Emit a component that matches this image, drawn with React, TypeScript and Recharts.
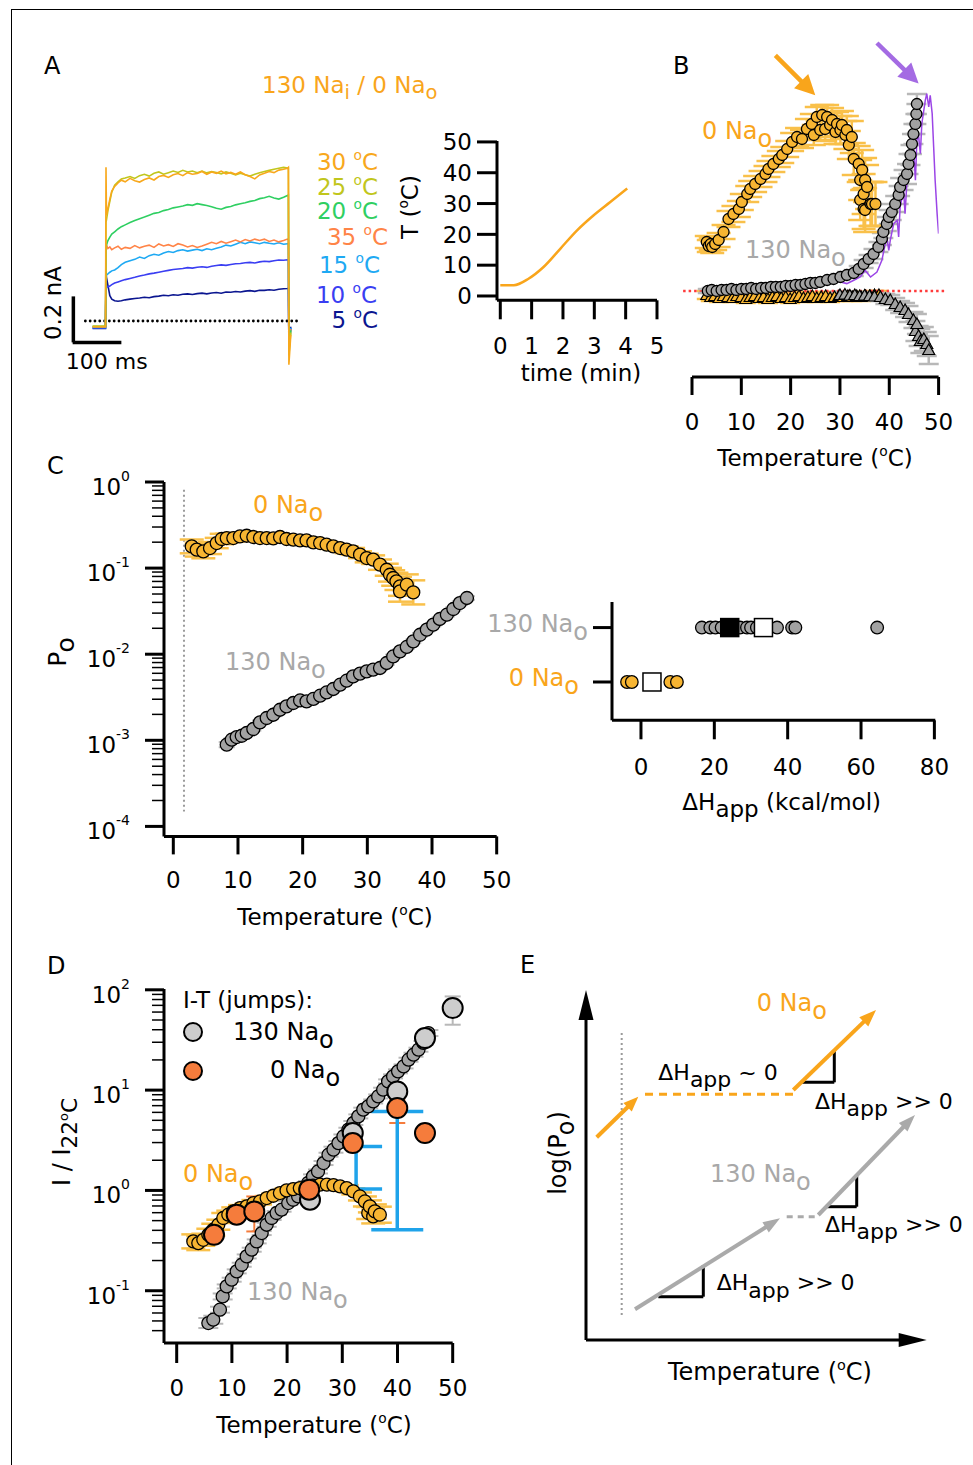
import React from "react";
import { ComposedChart, Line, Scatter, XAxis, YAxis, ErrorBar, ReferenceLine } from "recharts";

// fonts and colours
const FONT = "'DejaVu Sans', 'Liberation Sans', Arial, sans-serif";
const ORANGE = "#f9a51b";
const ORANGE_FILL = "#f7b532";
const ORANGE_ERR = "#f9c04a";
const GRAY_TXT = "#a8a8a8";
const GRAY_FILL = "#a2a2a2";
const GRAY_ERR = "#b8b8b8";
const JUMP_ORANGE = "#f57c3c";
const JUMP_GRAY = "#cdcdcd";
const BLUE = "#1fa3ea";
const PURPLE = "#9b45e6";

// ---------- A: current traces, time in ms, current in nA ----------
const tMs = [-28, -1, 0, 1, 4, 8, 12, 18, 25, 32, 40, 50, 60, 70, 80, 90, 100, 110, 120, 130, 140, 150, 160, 170, 180, 190, 200, 210, 220, 230, 240, 250, 260, 270, 280, 290, 300, 310, 320, 330, 340, 350, 360, 370, 378, 380, 381, 385];
const i30 = [-0.025, -0.025, 0.668, 0.46, 0.49, 0.53, 0.565, 0.585, 0.6, 0.612, 0.605, 0.62, 0.61, 0.604, 0.615, 0.622, 0.613, 0.628, 0.633, 0.624, 0.636, 0.641, 0.632, 0.645, 0.638, 0.641, 0.65, 0.638, 0.648, 0.642, 0.652, 0.64, 0.646, 0.638, 0.648, 0.636, 0.628, 0.618, 0.635, 0.642, 0.65, 0.645, 0.656, 0.66, 0.664, 0.668, -0.19, -0.06];
const i25 = [-0.022, -0.022, 0.43, 0.44, 0.48, 0.52, 0.56, 0.59, 0.605, 0.618, 0.622, 0.628, 0.62, 0.632, 0.638, 0.63, 0.642, 0.648, 0.638, 0.645, 0.652, 0.646, 0.655, 0.648, 0.652, 0.645, 0.652, 0.644, 0.65, 0.646, 0.64, 0.648, 0.642, 0.635, 0.642, 0.636, 0.63, 0.638, 0.645, 0.65, 0.655, 0.66, 0.664, 0.668, 0.665, 0.665, -0.15, -0.05];
const i20 = [-0.024, -0.024, 0.32, 0.33, 0.35, 0.365, 0.378, 0.388, 0.4, 0.41, 0.418, 0.428, 0.437, 0.445, 0.452, 0.46, 0.468, 0.472, 0.48, 0.485, 0.492, 0.496, 0.5, 0.506, 0.503, 0.51, 0.506, 0.502, 0.497, 0.49, 0.486, 0.494, 0.498, 0.505, 0.51, 0.514, 0.52, 0.524, 0.532, 0.536, 0.542, 0.535, 0.53, 0.538, 0.546, 0.548, -0.13, -0.04];
const i35 = [-0.026, -0.026, 0.325, 0.33, 0.315, 0.322, 0.31, 0.318, 0.325, 0.312, 0.32, 0.316, 0.328, 0.318, 0.325, 0.33, 0.32, 0.335, 0.326, 0.332, 0.324, 0.336, 0.33, 0.322, 0.328, 0.32, 0.326, 0.334, 0.342, 0.336, 0.346, 0.338, 0.345, 0.352, 0.344, 0.354, 0.348, 0.356, 0.35, 0.356, 0.346, 0.352, 0.344, 0.35, 0.356, 0.352, -0.12, -0.035];
const i15 = [-0.028, -0.028, 0.21, 0.2, 0.205, 0.212, 0.218, 0.222, 0.232, 0.245, 0.255, 0.262, 0.268, 0.278, 0.272, 0.284, 0.29, 0.286, 0.296, 0.302, 0.298, 0.306, 0.31, 0.304, 0.308, 0.312, 0.306, 0.314, 0.31, 0.316, 0.322, 0.33, 0.326, 0.334, 0.342, 0.336, 0.344, 0.34, 0.336, 0.342, 0.338, 0.335, 0.34, 0.334, 0.336, 0.336, -0.11, -0.03];
const i10 = [-0.03, -0.03, 0.16, 0.15, 0.148, 0.152, 0.158, 0.165, 0.17, 0.175, 0.18, 0.185, 0.19, 0.196, 0.2, 0.205, 0.208, 0.212, 0.216, 0.22, 0.224, 0.226, 0.228, 0.232, 0.23, 0.234, 0.236, 0.233, 0.238, 0.241, 0.244, 0.242, 0.246, 0.249, 0.25, 0.253, 0.255, 0.252, 0.257, 0.26, 0.258, 0.262, 0.265, 0.264, 0.266, 0.265, -0.1, -0.03];
const i5 = [-0.032, -0.032, 0.21, 0.19, 0.155, 0.11, 0.095, 0.088, 0.086, 0.088, 0.092, 0.095, 0.098, 0.1, 0.103, 0.101, 0.106, 0.108, 0.112, 0.11, 0.114, 0.112, 0.116, 0.118, 0.115, 0.119, 0.121, 0.118, 0.122, 0.124, 0.121, 0.126, 0.125, 0.128, 0.126, 0.13, 0.132, 0.129, 0.134, 0.133, 0.136, 0.134, 0.138, 0.14, 0.141, 0.142, -0.09, -0.025];
const traceTemps = [5, 10, 15, 35, 20, 25, 30];
const traceColors = ["#0b1690", "#3a3ef2", "#1ea9f3", "#ff8447", "#2fcf62", "#c1c61c", "#f8a81c"];
const traceValues = [i5, i10, i15, i35, i20, i25, i30];
// printed label order, with right edge and centre y
const traceLabels = [[30, 378, 161.7], [25, 378, 186.7], [20, 378, 210.7], [35, 388, 236.7], [15, 380, 265], [10, 377, 295], [5, 378, 320]];

// A inset: temperature ramp
const rampMin = [0, 0.43, 0.9, 1.38, 1.92, 2.45, 2.98, 3.51, 4.05];
const rampTemp = [3.5, 3.5, 5.6, 9.4, 15.4, 21.3, 26.2, 30.5, 34.9];
const rampTicksX = [0, 1, 2, 3, 4, 5];
const rampTicksY = [0, 10, 20, 30, 40, 50];

// ---------- B: normalised current vs temperature [T, value, err] ----------
const tempTicks = [0, 10, 20, 30, 40, 50];
const bOrangeCirc = [[3.0, 0.49, 0.06], [3.4, 0.45, 0.06], [3.8, 0.47, 0.06], [4.1, 0.44, 0.06], [4.7, 0.47, 0.06], [5.4, 0.51, 0.07], [6.4, 0.59, 0.07], [7.4, 0.72, 0.08], [8.4, 0.77, 0.08], [9.5, 0.82, 0.08], [10.1, 0.89, 0.08], [11.2, 0.97, 0.08], [11.8, 1.02, 0.08], [12.8, 1.07, 0.08], [13.9, 1.12, 0.08], [14.9, 1.17, 0.08], [15.5, 1.22, 0.08], [16.5, 1.27, 0.08], [17.6, 1.32, 0.08], [18.3, 1.36, 0.08], [19.3, 1.42, 0.08], [20.3, 1.49, 0.09], [21.3, 1.54, 0.09], [22.3, 1.52, 0.09], [23.3, 1.62, 0.1], [24.3, 1.67, 0.1], [24.7, 1.56, 0.1], [25.3, 1.74, 0.1], [26.0, 1.61, 0.1], [26.4, 1.76, 0.1], [27.0, 1.62, 0.12], [27.4, 1.74, 0.12], [28.0, 1.66, 0.12], [28.4, 1.71, 0.12], [29.1, 1.59, 0.12], [29.4, 1.67, 0.12], [30.1, 1.61, 0.14], [30.4, 1.66, 0.14], [31.1, 1.56, 0.14], [31.4, 1.61, 0.14], [31.8, 1.46, 0.14], [32.4, 1.54, 0.16], [32.8, 1.32, 0.16], [33.8, 1.27, 0.18], [34.1, 1.11, 0.2], [34.1, 0.91, 0.2], [34.5, 1.21, 0.2], [34.8, 0.97, 0.2], [34.8, 0.82, 0.2], [35.1, 1.11, 0.22], [35.1, 0.81, 0.22], [35.5, 1.04, 0.22], [36.2, 0.87, 0.22], [36.5, 0.87, 0.22], [37.2, 0.87, 0.22]];
const bGrayCirc = [[3.2, 0.0, 0.02], [4.0, 0.01, 0.02], [5.0, 0.0, 0.02], [6.0, 0.01, 0.02], [7.0, 0.01, 0.02], [8.0, 0.02, 0.02], [9.0, 0.01, 0.02], [10.0, 0.02, 0.02], [11.0, 0.02, 0.02], [12.0, 0.03, 0.02], [13.0, 0.02, 0.02], [14.0, 0.03, 0.02], [15.0, 0.03, 0.02], [16.0, 0.04, 0.02], [17.0, 0.04, 0.02], [18.0, 0.04, 0.02], [19.0, 0.05, 0.02], [20.0, 0.05, 0.02], [21.0, 0.06, 0.02], [22.0, 0.06, 0.02], [23.0, 0.07, 0.02], [24.0, 0.08, 0.02], [25.0, 0.08, 0.02], [26.0, 0.09, 0.02], [27.4, 0.11, 0.02], [28.7, 0.12, 0.02], [30.1, 0.14, 0.03], [31.4, 0.16, 0.03], [32.8, 0.18, 0.03], [33.8, 0.22, 0.03], [34.8, 0.27, 0.04], [35.8, 0.32, 0.04], [36.8, 0.37, 0.05], [37.8, 0.44, 0.05], [38.5, 0.52, 0.06], [38.8, 0.59, 0.06], [39.5, 0.67, 0.07], [39.9, 0.74, 0.07], [40.5, 0.79, 0.08], [41.2, 0.87, 0.08], [41.9, 0.96, 0.09], [42.2, 1.04, 0.09], [42.9, 1.11, 0.1], [43.6, 1.17, 0.1], [43.9, 1.27, 0.1], [44.3, 1.36, 0.1], [44.6, 1.47, 0.1], [44.9, 1.57, 0.1], [45.3, 1.67, 0.1], [45.5, 1.77, 0.1], [45.6, 1.87, 0.1]];
const bGrayTri = [[30, -0.04, 0.03], [31, -0.035, 0.03], [32, -0.045, 0.03], [33, -0.04, 0.03], [34, -0.05, 0.03], [35, -0.045, 0.03], [36, -0.05, 0.04], [37, -0.055, 0.04], [38.2, -0.06, 0.04], [39.2, -0.08, 0.05], [40.2, -0.09, 0.05], [41.2, -0.13, 0.06], [42.2, -0.16, 0.06], [43.2, -0.19, 0.07], [43.9, -0.23, 0.08], [44.9, -0.29, 0.08], [45.3, -0.4, 0.1], [45.6, -0.33, 0.1], [45.95, -0.45, 0.1], [46.3, -0.5, 0.12], [47.0, -0.48, 0.12], [47.6, -0.53, 0.12], [48.0, -0.59, 0.14]];
const bOrangeTri = [[3.0, -0.04, 0.04], [3.8, -0.06, 0.04], [4.6, -0.05, 0.04], [5.5, -0.07, 0.04], [6.4, -0.05, 0.04], [7.3, -0.06, 0.04], [8.2, -0.07, 0.04], [9.1, -0.05, 0.04], [10.0, -0.06, 0.04], [10.9, -0.08, 0.04], [11.8, -0.06, 0.04], [12.7, -0.05, 0.04], [13.6, -0.07, 0.04], [14.5, -0.06, 0.04], [15.4, -0.08, 0.04], [16.3, -0.06, 0.04], [17.2, -0.05, 0.04], [18.1, -0.07, 0.04], [19.0, -0.06, 0.04], [19.9, -0.08, 0.04], [20.8, -0.06, 0.04], [21.7, -0.05, 0.04], [22.6, -0.07, 0.04], [23.5, -0.06, 0.04], [24.4, -0.05, 0.04], [25.3, -0.07, 0.04], [26.2, -0.06, 0.04], [27.1, -0.05, 0.04], [28.0, -0.07, 0.04], [28.9, -0.06, 0.04], [29.8, -0.05, 0.04], [30.7, -0.06, 0.04], [31.6, -0.05, 0.04], [32.5, -0.06, 0.04], [33.4, -0.05, 0.04], [34.3, -0.06, 0.04], [35.2, -0.05, 0.04], [36.1, -0.05, 0.04], [37.0, -0.04, 0.04], [37.9, -0.04, 0.04]];
const bPurple = [[4, 0.0], [10, 0.01], [16, 0.02], [22, 0.02], [26.0, 0.057], [28.0, 0.107], [30.1, 0.09], [31.4, 0.074], [32.8, 0.107], [34.1, 0.14], [35.1, 0.207], [36.2, 0.14], [37.5, 0.19], [38.5, 0.307], [39.2, 0.474], [39.5, 0.54], [39.9, 0.407], [40.2, 0.507], [40.9, 0.674], [41.6, 0.707], [41.9, 0.54], [42.2, 0.84], [42.6, 0.94], [42.9, 1.007], [43.2, 0.774], [43.6, 1.107], [43.9, 1.24], [44.3, 1.34], [44.6, 1.274], [44.9, 1.44], [45.3, 1.107], [45.6, 1.507], [45.9, 1.574], [46.3, 1.374], [46.6, 1.674], [47.0, 1.807], [47.3, 1.907], [47.6, 1.974], [48.0, 1.84], [48.3, 1.957], [48.7, 1.774], [49.0, 1.44], [49.3, 1.107], [49.7, 0.774], [50.0, 0.574]];
const bArrows = [
  { from: [16.9, 2.357], to: [25.0, 1.957], color: ORANGE },
  { from: [37.5, 2.48], to: [45.95, 2.074], color: "#a46be3" },
];

// ---------- C: Po (log10 units) vs temperature ----------
const cOrange = [[2.85, -0.748, 0.08], [3.62, -0.786, 0.08], [4.64, -0.806, 0.08], [5.67, -0.767, 0.07], [6.71, -0.709, 0.06], [7.48, -0.662, 0.06], [8.26, -0.651, 0.05], [9.28, -0.651, 0.04], [10.3, -0.632, 0.04], [11.35, -0.624, 0.04], [12.37, -0.639, 0.03], [13.4, -0.651, 0.03], [14.44, -0.651, 0.03], [15.46, -0.655, 0.03], [16.5, -0.639, 0.03], [17.5, -0.662, 0.03], [18.55, -0.67, 0.03], [19.6, -0.678, 0.03], [20.6, -0.678, 0.03], [21.65, -0.701, 0.03], [22.7, -0.709, 0.03], [23.7, -0.728, 0.03], [24.74, -0.748, 0.03], [25.8, -0.767, 0.03], [26.8, -0.786, 0.04], [27.8, -0.806, 0.04], [28.87, -0.844, 0.04], [29.9, -0.883, 0.05], [30.9, -0.902, 0.05], [31.96, -0.96, 0.06], [33.0, -1.019, 0.07], [33.5, -1.077, 0.08], [34.0, -1.115, 0.09], [34.5, -1.154, 0.1], [35.05, -1.212, 0.11], [35.05, -1.27, 0.12], [36.1, -1.193, 0.12], [37.1, -1.282, 0.14]];
const cGray = [[8.26, -3.051, 0.03], [9.03, -2.993, 0.02], [9.8, -2.962, 0.02], [10.58, -2.947, 0.02], [11.35, -2.915, 0.02], [12.37, -2.869, 0.02], [13.4, -2.792, 0.02], [14.44, -2.741, 0.02], [15.46, -2.703, 0.02], [16.5, -2.645, 0.02], [17.5, -2.606, 0.02], [18.55, -2.567, 0.02], [19.6, -2.537, 0.02], [20.6, -2.548, 0.02], [21.65, -2.52, 0.02], [22.7, -2.482, 0.02], [23.7, -2.444, 0.02], [24.74, -2.404, 0.02], [25.8, -2.354, 0.02], [26.8, -2.308, 0.02], [27.8, -2.258, 0.02], [28.87, -2.226, 0.02], [29.9, -2.2, 0.02], [30.9, -2.18, 0.02], [31.96, -2.16, 0.02], [33.0, -2.102, 0.02], [34.0, -2.026, 0.02], [35.05, -1.967, 0.02], [36.1, -1.916, 0.02], [37.1, -1.851, 0.02], [38.15, -1.774, 0.02], [39.2, -1.715, 0.02], [40.2, -1.657, 0.02], [41.2, -1.591, 0.02], [42.3, -1.541, 0.02], [43.3, -1.475, 0.02], [44.3, -1.406, 0.02], [45.4, -1.347, 0.02]];
const cGuide = [[1.65, -0.089], [1.65, -3.826]];

// C right: apparent enthalpy (kcal/mol) per condition
const dhGroups = ["0 Na", "130 Na"];
const dh0 = [-3.8, -2.5, 8.0, 9.8];
const dh130 = [16.6, 18.9, 20.3, 22.0, 23.5, 25.5, 27.0, 28.9, 30.0, 31.6, 35.0, 37.1, 41.2, 42.1, 64.4];
const dhBlack = [[24.2, 2]];
const dhWhite = [[3.0, 1], [33.4, 2]];
const dhTicks = [0, 20, 40, 60, 80];

// ---------- D: I / I22 (log10 units) vs temperature ----------
const dGray = [[5.73, -1.322, 0.05], [6.63, -1.289, 0.04], [7.84, -1.189, 0.03], [8.33, -1.057, 0.03], [9.06, -0.957, 0.02], [9.96, -0.89, 0.02], [10.87, -0.807, 0.02], [11.78, -0.741, 0.02], [12.68, -0.658, 0.02], [13.59, -0.591, 0.02], [14.49, -0.508, 0.02], [15.4, -0.425, 0.02], [16.3, -0.342, 0.02], [17.2, -0.275, 0.02], [18.1, -0.225, 0.02], [19.0, -0.192, 0.02], [20.2, -0.126, 0.02], [21.1, -0.093, 0.02], [22.0, -0.06, 0.02], [22.9, 0.007, 0.02], [23.8, 0.074, 0.02], [24.7, 0.14, 0.02], [25.6, 0.189, 0.02], [26.6, 0.273, 0.02], [27.5, 0.356, 0.02], [28.4, 0.406, 0.03], [29.3, 0.472, 0.02], [30.2, 0.538, 0.02], [31.1, 0.605, 0.02], [32.0, 0.672, 0.02], [32.9, 0.738, 0.02], [33.8, 0.805, 0.02], [34.7, 0.838, 0.02], [35.6, 0.887, 0.02], [36.5, 0.937, 0.02], [37.4, 1.004, 0.02], [38.3, 1.087, 0.02], [39.2, 1.137, 0.02], [40.1, 1.187, 0.02], [41.1, 1.236, 0.02], [42.0, 1.303, 0.02], [42.9, 1.353, 0.02], [43.8, 1.403, 0.02], [44.7, 1.47, 0.02], [45.6, 1.569, 0.03]];
const dOrange = [[3.01, -0.508, 0.07], [3.91, -0.525, 0.07], [4.82, -0.492, 0.06], [5.73, -0.442, 0.06], [6.63, -0.392, 0.06], [7.54, -0.342, 0.05], [8.44, -0.275, 0.05], [9.35, -0.242, 0.04], [10.25, -0.209, 0.04], [11.47, -0.176, 0.03], [12.68, -0.159, 0.03], [13.9, -0.126, 0.03], [15.1, -0.11, 0.03], [16.3, -0.076, 0.02], [17.5, -0.053, 0.02], [18.7, -0.026, 0.02], [19.9, 0.0, 0.02], [21.1, 0.013, 0.02], [22.3, 0.023, 0.02], [23.5, 0.033, 0.02], [24.7, 0.047, 0.02], [25.96, 0.057, 0.02], [27.2, 0.057, 0.02], [28.4, 0.053, 0.02], [29.6, 0.04, 0.02], [30.8, 0.023, 0.03], [32.0, -0.01, 0.03], [33.2, -0.06, 0.04], [34.1, -0.11, 0.05], [34.7, -0.225, 0.06], [35.0, -0.159, 0.06], [35.6, -0.259, 0.07], [35.9, -0.209, 0.07], [36.8, -0.242, 0.08]];
// jumps: [T, centre, low end, high end] (log10)
const dJumpGray = [[24.15, -0.093, -0.093, -0.093], [31.9, 0.572, 0.572, 0.572], [39.96, 0.987, 0.987, 0.987], [44.98, 1.519, 1.519, 1.519], [50.0, 1.818, 1.652, 1.934]];
const dJumpOrange = [[6.76, -0.442, -0.442, -0.442], [10.87, -0.242, -0.242, -0.242], [14.06, -0.209, -0.409, -0.06], [24.0, 0.007, 0.007, 0.007], [31.9, 0.472, 0.472, 0.472], [39.96, 0.821, 0.672, 0.904], [44.98, 0.572, 0.572, 0.572]];
const dGap = [[32.5, 0.014, 0.439], [39.96, -0.392, 0.788]];

// ---------- E: schematic, in its own 400 x 380 frame ----------
const eArrows = [
  { from: [26, 20], to: [26, 370], color: "#000", w: 3, head: [30, 15] },
  { from: [26, 20], to: [366.7, 20], color: "#000", w: 3, head: [28, 14] },
  { from: [36.7, 222.7], to: [78.3, 263.3], color: ORANGE, w: 4, head: [15, 12] },
  { from: [233.3, 270], to: [316, 350], color: ORANGE, w: 4, head: [17, 13] },
  { from: [75, 50.7], to: [220, 141.7], color: "#aaaaaa", w: 4, head: [17, 12] },
  { from: [258.3, 145], to: [355, 245], color: "#aaaaaa", w: 4, head: [17, 12] },
];
const eLines = [
  { from: [61.7, 327], to: [61.7, 45], color: "#9a9a9a", w: 2, dash: "2 3" },
  { from: [85, 265.7], to: [233.3, 265.7], color: ORANGE, w: 3, dash: "8 6" },
  { from: [226.7, 143.3], to: [258.3, 143.3], color: "#aaaaaa", w: 3, dash: "6 5" },
  { from: [274.3, 310], to: [274.3, 277.7], color: "#000", w: 3 },
  { from: [241.7, 277.7], to: [274.3, 277.7], color: "#000", w: 3 },
  { from: [296.7, 186], to: [296.7, 153.3], color: "#000", w: 3 },
  { from: [265, 153.3], to: [296.7, 153.3], color: "#000", w: 3 },
  { from: [143.3, 95], to: [143.3, 63.3], color: "#000", w: 3 },
  { from: [98.3, 63.3], to: [143.3, 63.3], color: "#000", w: 3 },
];

// ---------- helpers ----------
const PAD = 30;
function box(x: number, y: number, w: number, h: number, yw = 0, xh = 0) {
  return { left: x - PAD - yw, top: y - PAD, width: w + 2 * PAD + yw, height: h + 2 * PAD + xh, margin: { top: PAD, right: PAD, bottom: PAD, left: PAD } };
}
const axisLine = { stroke: "#000", strokeWidth: 3 };
const tickFont = { fill: "#000", fontSize: 23, fontFamily: FONT };

const dot = (fill: string, r: number, sw = 1.3) => (p: any) => <circle cx={p.cx} cy={p.cy} r={r} fill={fill} stroke="#000" strokeWidth={sw} />;
const tri = (fill: string, s = 6) => (p: any) => (
  <polygon points={`${p.cx},${p.cy - s} ${p.cx - s},${p.cy + s * 0.75} ${p.cx + s},${p.cy + s * 0.75}`} fill={fill} stroke="#000" strokeWidth={1.2} />
);
const sq = (fill: string, s = 9) => (p: any) => <rect x={p.cx - s} y={p.cy - s} width={2 * s} height={2 * s} fill={fill} stroke="#000" strokeWidth={1.5} />;
const none = () => <g />;

const arrowShape = (color: string, w: number, hl: number, hw: number) => (p: any) => {
  const { x1, y1, x2, y2 } = p;
  const len = Math.hypot(x2 - x1, y2 - y1) || 1;
  const ux = (x2 - x1) / len;
  const uy = (y2 - y1) / len;
  const bx = x2 - ux * hl;
  const by = y2 - uy * hl;
  const nx = (-uy * hw) / 2;
  const ny = (ux * hw) / 2;
  return (
    <g>
      <line x1={x1} y1={y1} x2={bx + ux} y2={by + uy} stroke={color} strokeWidth={w} />
      <polygon points={`${x2},${y2} ${bx + nx},${by + ny} ${bx - nx},${by - ny}`} fill={color} />
    </g>
  );
};

function logTicks(lo: number, hi: number, min = 0) {
  const out: number[] = [];
  for (let n = lo; n < hi; n++) for (let k = 1; k <= 9; k++) out.push(k * 10 ** n);
  out.push(10 ** hi);
  return out.filter((v) => v >= min);
}
const logTick = (p: any) => {
  const lg = Math.log10(p.payload.value);
  const e = Math.round(lg);
  const major = Math.abs(lg - e) < 1e-6;
  return (
    <g>
      <line x1={p.x - (major ? 19 : 12)} x2={p.x} y1={p.y} y2={p.y} stroke="#000" strokeWidth={major ? 3 : 1.5} />
      {major && (
        <text x={p.x - 34} y={p.y + 13} textAnchor="end" fontSize={23} fontFamily={FONT} fill="#000">
          10<tspan dy={-14} fontSize={14}>{e}</tspan>
        </text>
      )}
    </g>
  );
};
const dhTick = (p: any) => {
  const i = Math.round(p.payload.value) - 1;
  const is130 = i === 1;
  return (
    <text x={is130 ? p.x : p.x - 9} y={p.y + 4} textAnchor="end" fontSize={24} fontFamily={FONT} fill={is130 ? GRAY_TXT : ORANGE}>
      {dhGroups[i]}
      <tspan dy={8}>o</tspan>
    </text>
  );
};

const toLog = (pts: number[][]) =>
  pts.map(([x, lg, e]) => {
    const y = 10 ** lg;
    return { x, y, e: [y - 10 ** (lg - e), 10 ** (lg + e) - y] };
  });
const toLogRange = (pts: number[][]) =>
  pts.map(([x, c, lo, hi]) => {
    const y = 10 ** c;
    return { x, y, e: [y - 10 ** lo, 10 ** hi - y] };
  });
const toXY = (pts: number[][]) => pts.map(([x, y, e]) => ({ x, y, e }));

function Lbl({ x, y, s = 23, c = "#000", a = "start", rot = false, children }: any) {
  const tx = a === "start" ? "0%" : a === "middle" ? "-50%" : "-100%";
  return (
    <div style={{ position: "absolute", left: x, top: y, fontSize: s, color: c, lineHeight: 1, whiteSpace: "nowrap", fontFamily: FONT, transform: rot ? "translate(-50%,-50%) rotate(-90deg)" : `translate(${tx},-50%)` }}>
      {children}
    </div>
  );
}
const Sub = ({ children, k = 1 }: any) => <span style={{ fontSize: `${k}em`, position: "relative", top: "0.33em" }}>{children}</span>;
const Deg = () => <span style={{ fontSize: "0.6em", position: "relative", top: "-0.7em" }}>o</span>;
const Pos = ({ b, children }: any) => <div style={{ position: "absolute", left: b.left, top: b.top }}>{children}</div>;

// ---------- boxes (plot areas in page pixels) ----------
const aBox = box(69.7, 159.7, 228, 207);
const rBox = box(496.7, 140.7, 160, 159.3, 60, 60);
const bBox = box(691.7, 40.7, 246.6, 336, 0, 70);
const cBox = box(164, 482.3, 332.7, 354.4, 90, 70);
const hBox = box(611.7, 601.7, 323.3, 118.3, 130, 60);
const dBox = box(164, 989.3, 288.7, 354, 90, 70);
const eBox = box(560, 980, 400, 380);

export default function App() {
  const traceRows = tMs.map((t, i) => {
    const r: any = { t };
    traceTemps.forEach((T, k) => (r["c" + T] = traceValues[k][i]));
    return r;
  });
  const rampRows = rampMin.map((x, i) => ({ x, y: rampTemp[i] }));
  const colorOf = (T: number) => traceColors[traceTemps.indexOf(T)];

  return (
    <div style={{ position: "absolute", left: 0, top: 0, width: 973, height: 1465, background: "#fff", overflow: "hidden", fontFamily: FONT }}>
      <div style={{ position: "absolute", left: 11, top: 9, width: 970, height: 1470, borderTop: "1px solid #000", borderLeft: "1px solid #000" }} />

      {/* A traces */}
      <Pos b={aBox}>
        <ComposedChart width={aBox.width} height={aBox.height} margin={aBox.margin} data={traceRows}>
          <XAxis type="number" dataKey="t" domain={[-75, 400]} hide allowDataOverflow />
          <YAxis type="number" domain={[-0.2, 0.7]} hide allowDataOverflow />
          <ReferenceLine segment={[{ x: -43, y: 0 }, { x: 399, y: 0 }]} stroke="#000" strokeWidth={2.8} strokeDasharray="0 4.8" strokeLinecap="round" ifOverflow="visible" />
          <ReferenceLine segment={[{ x: -68, y: 0.107 }, { x: -68, y: -0.093 }]} stroke="#000" strokeWidth={3.5} ifOverflow="visible" />
          <ReferenceLine segment={[{ x: -69.5, y: -0.093 }, { x: 32, y: -0.093 }]} stroke="#000" strokeWidth={3.5} ifOverflow="visible" />
          {traceTemps.map((T, k) => (
            <Line key={T} type="linear" dataKey={"c" + T} stroke={traceColors[k]} strokeWidth={1.6} dot={false} isAnimationActive={false} />
          ))}
        </ComposedChart>
      </Pos>

      {/* A inset: ramp */}
      <Pos b={rBox}>
        <ComposedChart width={rBox.width} height={rBox.height} margin={rBox.margin} data={rampRows}>
          <XAxis type="number" dataKey="x" domain={[-0.105, 5]} ticks={rampTicksX} interval={0} allowDataOverflow height={60} tickSize={19} tickMargin={18} axisLine={axisLine} tickLine={axisLine} tick={tickFont} />
          <YAxis type="number" domain={[-1.4, 50.3]} ticks={rampTicksY} interval={0} allowDataOverflow width={60} tickSize={20} tickMargin={5} axisLine={axisLine} tickLine={axisLine} tick={tickFont} />
          <Line type="monotone" dataKey="y" stroke={ORANGE} strokeWidth={2.5} dot={false} isAnimationActive={false} />
        </ComposedChart>
      </Pos>

      {/* B */}
      <Pos b={bBox}>
        <ComposedChart width={bBox.width} height={bBox.height} margin={bBox.margin}>
          <XAxis type="number" dataKey="x" domain={[0, 50]} ticks={tempTicks} interval={0} allowDataOverflow height={70} tickSize={18} tickMargin={19} axisLine={axisLine} tickLine={axisLine} tick={tickFont} />
          <YAxis type="number" dataKey="y" domain={[-0.86, 2.5]} allowDataOverflow hide />
          <Scatter data={toXY(bOrangeTri)} shape={tri(ORANGE_FILL)} isAnimationActive={false}>
            <ErrorBar dataKey="e" direction="y" width={10} stroke={ORANGE_ERR} strokeWidth={2.5} isAnimationActive={false} />
          </Scatter>
          <Scatter data={toXY(bGrayTri)} shape={tri(GRAY_FILL)} isAnimationActive={false}>
            <ErrorBar dataKey="e" direction="y" width={10} stroke={GRAY_ERR} strokeWidth={2.5} isAnimationActive={false} />
          </Scatter>
          <ReferenceLine segment={[{ x: -1.8, y: 0 }, { x: 51.4, y: 0 }]} stroke="#ff3b3b" strokeWidth={2.5} strokeDasharray="2.5 3" ifOverflow="visible" />
          <Scatter data={toXY(bGrayCirc)} shape={dot(GRAY_FILL, 5.5)} isAnimationActive={false}>
            <ErrorBar dataKey="e" direction="y" width={10} stroke={GRAY_ERR} strokeWidth={2.5} isAnimationActive={false} />
          </Scatter>
          <Line data={bPurple.map(([x, y]) => ({ x, y }))} dataKey="y" type="linear" stroke={PURPLE} strokeWidth={1.5} dot={false} isAnimationActive={false} />
          <Scatter data={toXY(bOrangeCirc)} shape={dot(ORANGE_FILL, 5.5)} isAnimationActive={false}>
            <ErrorBar dataKey="e" direction="y" width={12} stroke={ORANGE_ERR} strokeWidth={2.5} isAnimationActive={false} />
          </Scatter>
          {bArrows.map((a, i) => (
            <ReferenceLine key={i} segment={[{ x: a.from[0], y: a.from[1] }, { x: a.to[0], y: a.to[1] }]} shape={arrowShape(a.color, 4.5, 20, 20)} ifOverflow="visible" />
          ))}
        </ComposedChart>
      </Pos>

      {/* C main */}
      <Pos b={cBox}>
        <ComposedChart width={cBox.width} height={cBox.height} margin={cBox.margin}>
          <XAxis type="number" dataKey="x" domain={[-1.44, 50]} ticks={tempTicks} interval={0} allowDataOverflow height={70} tickSize={18} tickMargin={17} axisLine={axisLine} tickLine={axisLine} tick={tickFont} />
          <YAxis type="number" dataKey="y" scale="log" domain={[10 ** -4.116, 1]} allowDataOverflow ticks={logTicks(-4, 0)} interval={0} width={90} tickSize={0} tickMargin={0} tickLine={false} axisLine={axisLine} tick={logTick} />
          <ReferenceLine segment={cGuide.map(([x, lg]) => ({ x, y: 10 ** lg }))} stroke="#9a9a9a" strokeWidth={2} strokeDasharray="2 3" ifOverflow="visible" />
          <Scatter data={toLog(cGray)} shape={dot(GRAY_FILL, 6.5)} isAnimationActive={false}>
            <ErrorBar dataKey="e" direction="y" width={8} stroke={GRAY_ERR} strokeWidth={2} isAnimationActive={false} />
          </Scatter>
          <Scatter data={toLog(cOrange)} shape={dot(ORANGE_FILL, 6.5)} isAnimationActive={false}>
            <ErrorBar dataKey="e" direction="y" width={12} stroke={ORANGE_ERR} strokeWidth={2.5} isAnimationActive={false} />
          </Scatter>
        </ComposedChart>
      </Pos>

      {/* C right: enthalpy */}
      <Pos b={hBox}>
        <ComposedChart width={hBox.width} height={hBox.height} margin={hBox.margin}>
          <XAxis type="number" dataKey="x" domain={[-7.9, 80.25]} ticks={dhTicks} interval={0} allowDataOverflow height={60} tickSize={19} tickMargin={19} axisLine={axisLine} tickLine={axisLine} tick={tickFont} />
          <YAxis type="number" dataKey="y" domain={[0.296, 2.47]} ticks={[1, 2]} interval={0} allowDataOverflow width={130} tickSize={19} tickMargin={5} axisLine={axisLine} tickLine={axisLine} tick={dhTick} />
          <Scatter data={dh130.map((x) => ({ x, y: 2 }))} shape={dot(GRAY_FILL, 6.3)} isAnimationActive={false} />
          <Scatter data={dh0.map((x) => ({ x, y: 1 }))} shape={dot(ORANGE_FILL, 6.3)} isAnimationActive={false} />
          <Scatter data={dhBlack.map(([x, y]) => ({ x, y }))} shape={sq("#000")} isAnimationActive={false} />
          <Scatter data={dhWhite.map(([x, y]) => ({ x, y }))} shape={sq("#fff")} isAnimationActive={false} />
        </ComposedChart>
      </Pos>

      {/* D */}
      <Pos b={dBox}>
        <ComposedChart width={dBox.width} height={dBox.height} margin={dBox.margin}>
          <XAxis type="number" dataKey="x" domain={[-2.3, 50]} ticks={tempTicks} interval={0} height={70} tickSize={20} tickMargin={17} axisLine={axisLine} tickLine={axisLine} tick={tickFont} />
          <YAxis type="number" dataKey="y" scale="log" domain={[10 ** -1.521, 10 ** 2.008]} ticks={logTicks(-2, 2, 0.035)} interval={0} width={90} tickSize={0} tickMargin={0} tickLine={false} axisLine={axisLine} tick={logTick} />
          <Scatter data={toLog(dGray)} shape={dot(GRAY_FILL, 6.5)} isAnimationActive={false}>
            <ErrorBar dataKey="e" direction="y" width={10} stroke={GRAY_ERR} strokeWidth={2} isAnimationActive={false} />
          </Scatter>
          <Scatter data={toLog(dOrange)} shape={dot(ORANGE_FILL, 6.5)} isAnimationActive={false}>
            <ErrorBar dataKey="e" direction="y" width={12} stroke={ORANGE_ERR} strokeWidth={2.5} isAnimationActive={false} />
          </Scatter>
          <Scatter data={toLogRange(dJumpGray)} shape={dot(JUMP_GRAY, 10, 2)} isAnimationActive={false}>
            <ErrorBar dataKey="e" direction="y" width={8} stroke={GRAY_ERR} strokeWidth={2} isAnimationActive={false} />
          </Scatter>
          <Scatter data={toLogRange(dJumpOrange)} shape={dot(JUMP_ORANGE, 10, 2)} isAnimationActive={false}>
            <ErrorBar dataKey="e" direction="y" width={8} stroke={JUMP_ORANGE} strokeWidth={2} isAnimationActive={false} />
          </Scatter>
          <Scatter data={dGap.map(([x, lo, hi]) => ({ x, y: 10 ** lo, e: [0, 10 ** hi - 10 ** lo] }))} shape={none} isAnimationActive={false}>
            <ErrorBar dataKey="e" direction="y" width={26} stroke={BLUE} strokeWidth={3.5} isAnimationActive={false} />
          </Scatter>
        </ComposedChart>
      </Pos>

      {/* E schematic */}
      <Pos b={eBox}>
        <ComposedChart width={eBox.width} height={eBox.height} margin={eBox.margin}>
          <XAxis type="number" dataKey="x" domain={[0, 400]} hide allowDataOverflow />
          <YAxis type="number" dataKey="y" domain={[0, 380]} hide allowDataOverflow />
          {eLines.map((l, i) => (
            <ReferenceLine key={"l" + i} segment={[{ x: l.from[0], y: l.from[1] }, { x: l.to[0], y: l.to[1] }]} stroke={l.color} strokeWidth={l.w} strokeDasharray={l.dash} ifOverflow="visible" />
          ))}
          {eArrows.map((a, i) => (
            <ReferenceLine key={"a" + i} segment={[{ x: a.from[0], y: a.from[1] }, { x: a.to[0], y: a.to[1] }]} shape={arrowShape(a.color, a.w, a.head[0], a.head[1])} ifOverflow="visible" />
          ))}
        </ComposedChart>
      </Pos>

      {/* ---- text ---- */}
      <Lbl x={44} y={66} s={24}>A</Lbl>
      <Lbl x={673} y={65.7} s={24}>B</Lbl>
      <Lbl x={47} y={465.7} s={24}>C</Lbl>
      <Lbl x={47} y={965.7} s={24}>D</Lbl>
      <Lbl x={520} y={965} s={24}>E</Lbl>

      <Lbl x={262} y={85} s={23} c={ORANGE}>130 Na<Sub k={0.85}>i</Sub> / 0 Na<Sub k={0.85}>o</Sub></Lbl>
      {traceLabels.map(([T, xr, yc]) => (
        <Lbl key={T} x={xr} y={yc} a="end" c={colorOf(T)}>{T} <Deg />C</Lbl>
      ))}
      <Lbl x={53} y={302.5} rot>0.2 nA</Lbl>
      <Lbl x={106.7} y={361.7} a="middle" s={22}>100 ms</Lbl>
      <Lbl x={410} y={207} rot>T (<Deg />C)</Lbl>
      <Lbl x={581} y={373.3} a="middle">time (min)</Lbl>

      <Lbl x={702} y={130.7} s={24} c={ORANGE}>0 Na<Sub>o</Sub></Lbl>
      <Lbl x={745} y={250} s={24} c={GRAY_TXT}>130 Na<Sub>o</Sub></Lbl>
      <Lbl x={815} y={457.7} a="middle">Temperature (<Deg />C)</Lbl>

      <Lbl x={253} y={505} s={24} c={ORANGE}>0 Na<Sub>o</Sub></Lbl>
      <Lbl x={225} y={661.7} s={24} c={GRAY_TXT}>130 Na<Sub>o</Sub></Lbl>
      <Lbl x={57} y={652} s={25} rot>P<Sub>o</Sub></Lbl>
      <Lbl x={335} y={916.7} a="middle">Temperature (<Deg />C)</Lbl>
      <Lbl x={781.7} y={801.7} a="middle">ΔH<Sub>app</Sub> (kcal/mol)</Lbl>

      <Lbl x={183} y={1000}>I-T (jumps):</Lbl>
      <div style={{ position: "absolute", left: 182.7, top: 1021.7, width: 20, height: 20, borderRadius: "50%", background: JUMP_GRAY, border: "2px solid #000", boxSizing: "border-box" }} />
      <div style={{ position: "absolute", left: 182.7, top: 1060.7, width: 20, height: 20, borderRadius: "50%", background: JUMP_ORANGE, border: "2px solid #000", boxSizing: "border-box" }} />
      <Lbl x={233} y={1031.7} s={24}>130 Na<Sub>o</Sub></Lbl>
      <Lbl x={270} y={1070} s={24}>0 Na<Sub>o</Sub></Lbl>
      <Lbl x={183} y={1174} s={24} c={ORANGE}>0 Na<Sub>o</Sub></Lbl>
      <Lbl x={247} y={1291.7} s={24} c={GRAY_TXT}>130 Na<Sub>o</Sub></Lbl>
      <Lbl x={62} y={1141.7} s={24} rot>I / I<Sub k={0.9}>22<Deg />C</Sub></Lbl>
      <Lbl x={314} y={1425} a="middle">Temperature (<Deg />C)</Lbl>

      <Lbl x={756.7} y={1003.3} s={24} c={ORANGE}>0 Na<Sub>o</Sub></Lbl>
      <Lbl x={658.3} y={1073} s={22}>ΔH<Sub>app</Sub> ~ 0</Lbl>
      <Lbl x={815} y={1101.7} s={22}>ΔH<Sub>app</Sub> &gt;&gt; 0</Lbl>
      <Lbl x={710} y={1174} s={24} c={GRAY_TXT}>130 Na<Sub>o</Sub></Lbl>
      <Lbl x={825} y={1225} s={22}>ΔH<Sub>app</Sub> &gt;&gt; 0</Lbl>
      <Lbl x={716.7} y={1283.3} s={22}>ΔH<Sub>app</Sub> &gt;&gt; 0</Lbl>
      <Lbl x={558} y={1153} s={24} rot>log(P<Sub>o</Sub>)</Lbl>
      <Lbl x={770} y={1371.7} s={24} a="middle">Temperature (<Deg />C)</Lbl>
    </div>
  );
}
